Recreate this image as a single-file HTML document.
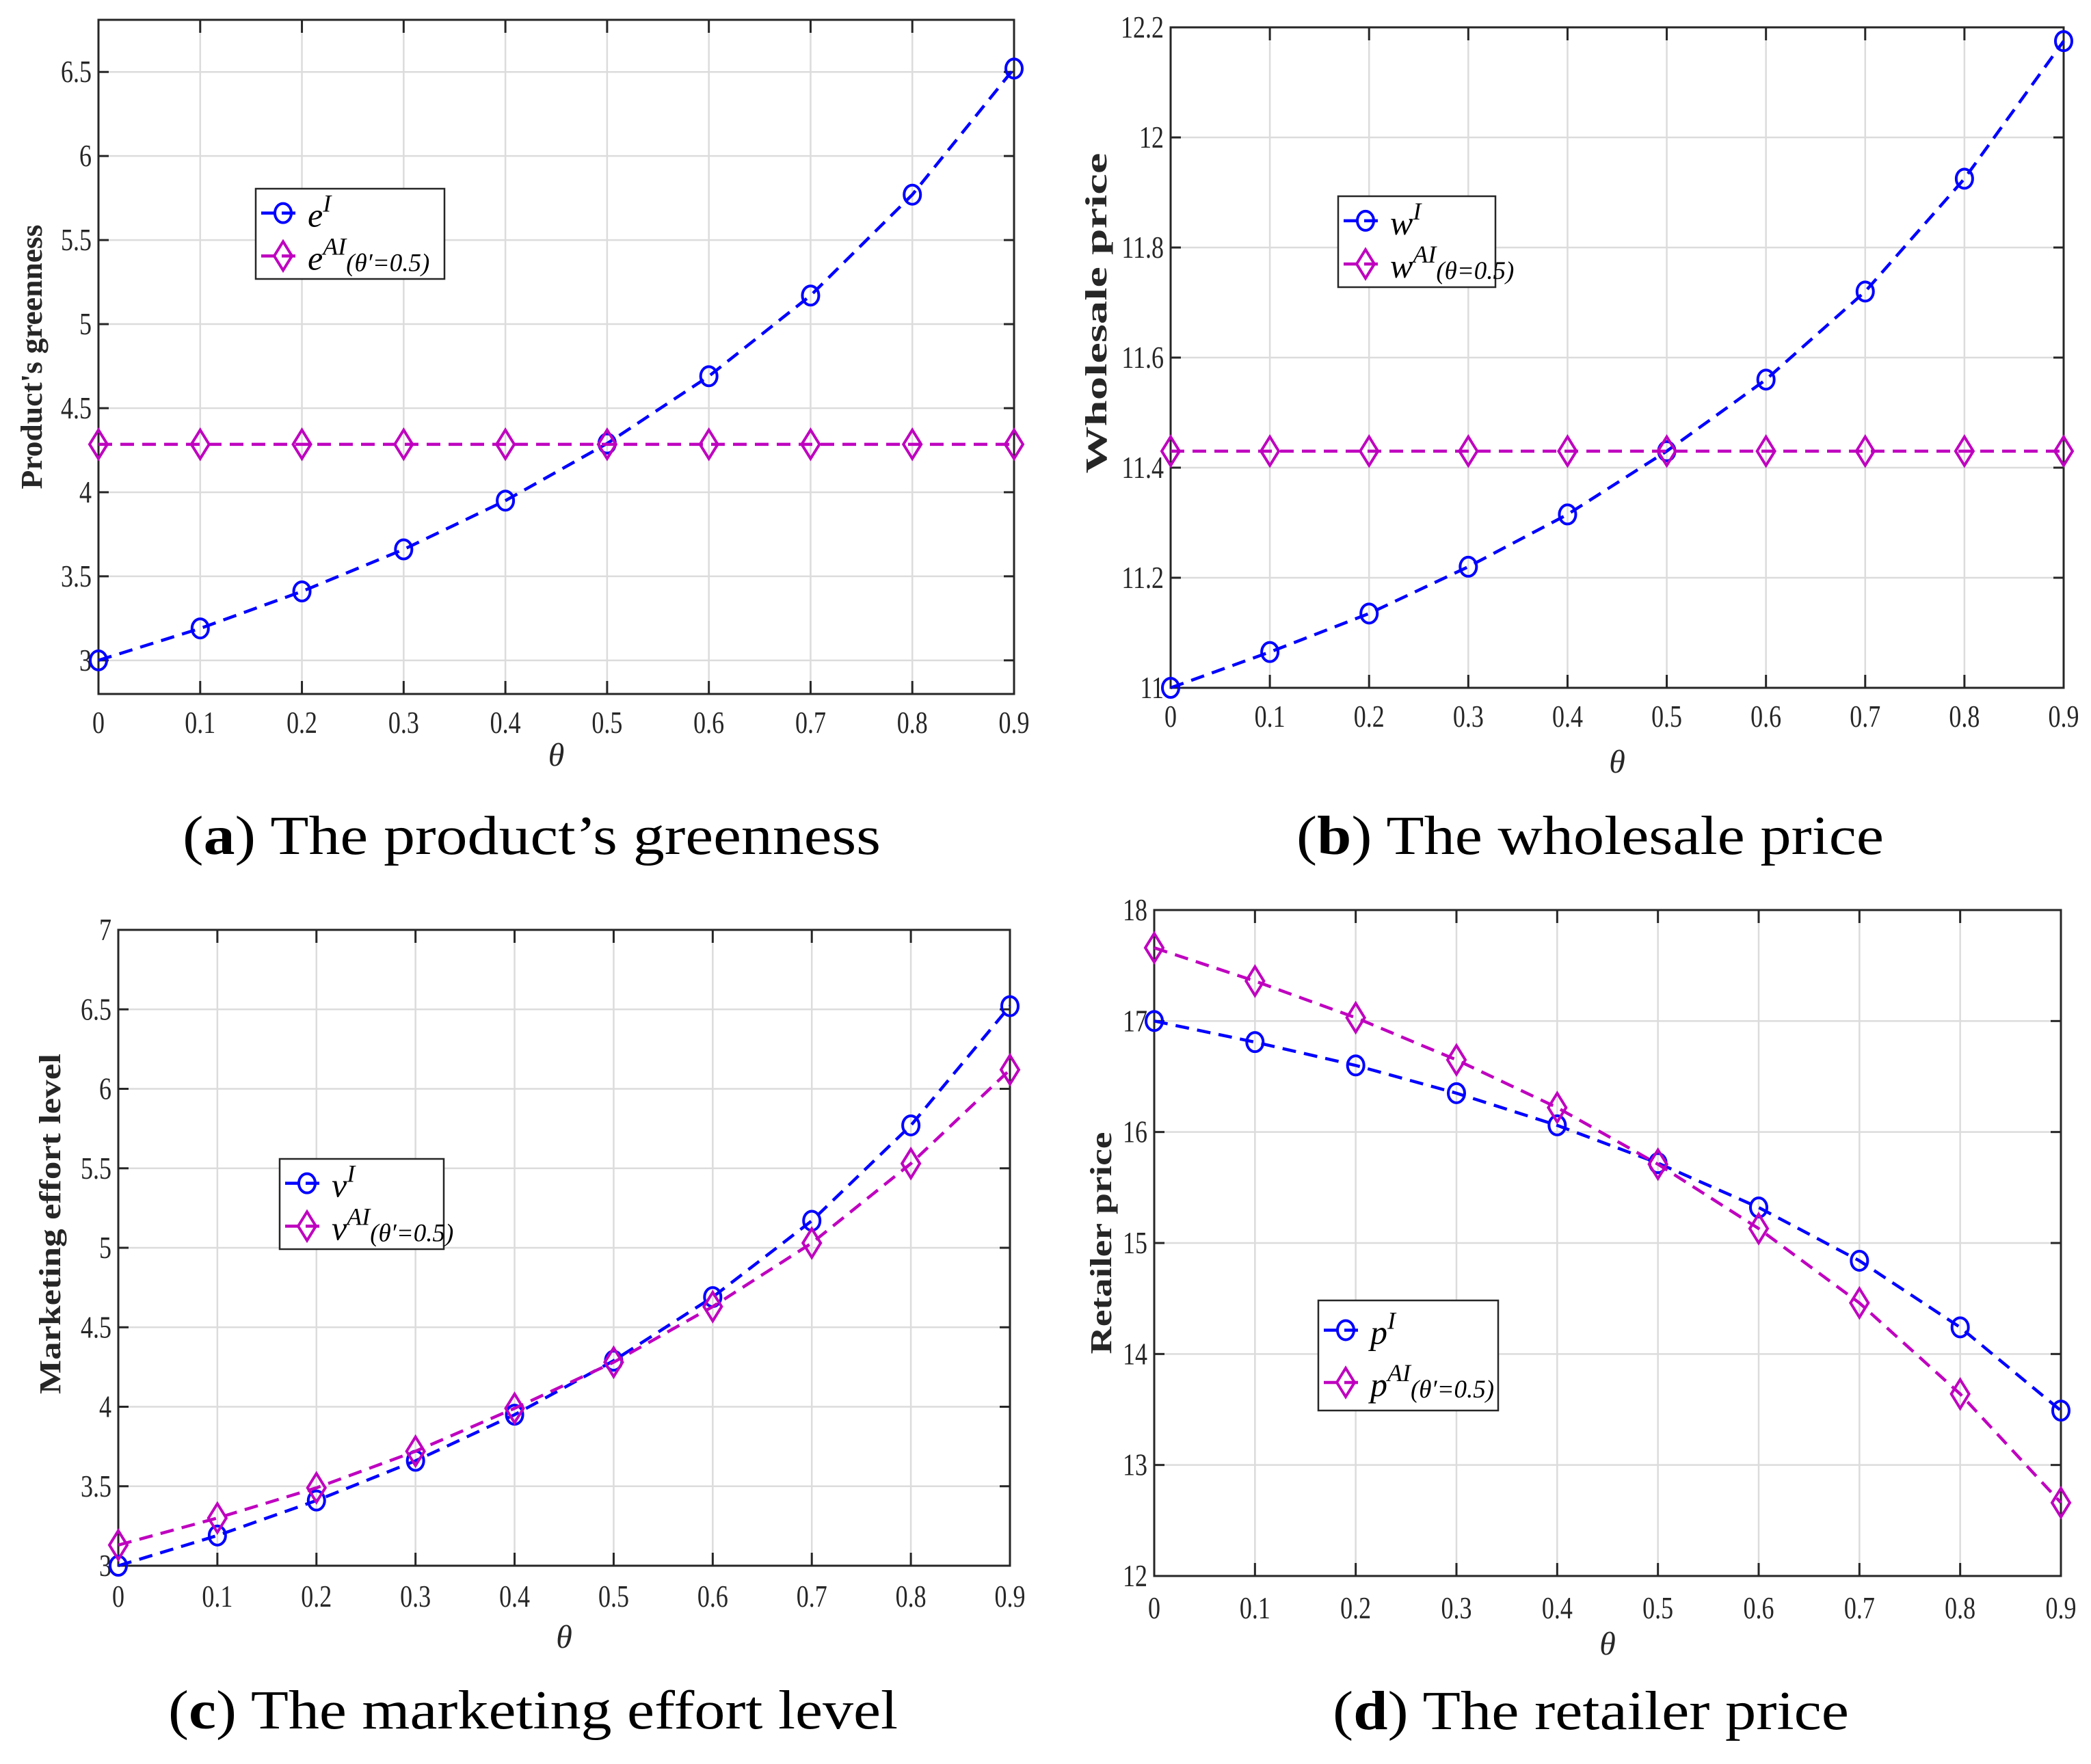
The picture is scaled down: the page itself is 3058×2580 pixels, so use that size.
<!DOCTYPE html>
<html><head><meta charset="utf-8"><title>Comparison of theta effects</title>
<style>
html,body{margin:0;padding:0;background:#fff;}
svg{display:block;}
text{font-family:"Liberation Serif","DejaVu Serif",serif;fill:#262626;}
</style></head>
<body>
<svg id="chart" width="3058" height="2580" viewBox="0 0 3058 2580" xmlns="http://www.w3.org/2000/svg"></svg>
<script>
// ---- data ----
const thetas = [0, 0.1, 0.2, 0.3, 0.4, 0.5, 0.6, 0.7, 0.8, 0.9];
const xTickLabels = ["0","0.1","0.2","0.3","0.4","0.5","0.6","0.7","0.8","0.9"];
const eI  = [3.0, 3.19, 3.41, 3.66, 3.95, 4.29, 4.69, 5.17, 5.77, 6.52];
const eAI = [4.285, 4.285, 4.285, 4.285, 4.285, 4.285, 4.285, 4.285, 4.285, 4.285];
const wI  = [11.0, 11.065, 11.135, 11.22, 11.315, 11.43, 11.56, 11.72, 11.925, 12.175];
const wAI = [11.43, 11.43, 11.43, 11.43, 11.43, 11.43, 11.43, 11.43, 11.43, 11.43];
const vI  = [3.0, 3.19, 3.41, 3.66, 3.95, 4.29, 4.69, 5.17, 5.77, 6.52];
const vAI = [3.13, 3.30, 3.49, 3.72, 3.99, 4.28, 4.63, 5.03, 5.53, 6.12];
const pI  = [17.0, 16.81, 16.60, 16.35, 16.06, 15.72, 15.32, 14.84, 14.24, 13.49];
const pAI = [17.66, 17.36, 17.03, 16.65, 16.22, 15.71, 15.13, 14.46, 13.64, 12.66];
const yTicksA = [3, 3.5, 4, 4.5, 5, 5.5, 6, 6.5];
const yTickLabelsA = ["3","3.5","4","4.5","5","5.5","6","6.5"];
const yTicksB = [11, 11.2, 11.4, 11.6, 11.8, 12, 12.2];
const yTickLabelsB = ["11","11.2","11.4","11.6","11.8","12","12.2"];
const yTicksC = [3, 3.5, 4, 4.5, 5, 5.5, 6, 6.5, 7];
const yTickLabelsC = ["3","3.5","4","4.5","5","5.5","6","6.5","7"];
const yTicksD = [12, 13, 14, 15, 16, 17, 18];
const yTickLabelsD = ["12","13","14","15","16","17","18"];

const NS = "http://www.w3.org/2000/svg";
const svg = document.getElementById("chart");
function mk(tag, attrs, parent){
  const el = document.createElementNS(NS, tag);
  for (const k in attrs) el.setAttribute(k, attrs[k]);
  (parent||svg).appendChild(el);
  return el;
}

const panels = [
  {id:"a", L:144, R:1483, T:29, B:1015, ymin:2.8, ymax:6.81, yt:yTicksA, ytl:yTickLabelsA,
   s1:eI, s2:eAI, sym:"e", prime:"(θ′=0.5)", ylabel:"Product's greenness", ylx:47, ylc:522, yll:387,
   xlabY:1072, thetaY:1120, leg:[374,276,650,408],
   cap:"The product’s greenness", capL:"a", capX:267, capW:1021, capY:1249},
  {id:"b", L:1712, R:3018, T:40, B:1006, ymin:11, ymax:12.2, yt:yTicksB, ytl:yTickLabelsB,
   s1:wI, s2:wAI, sym:"w", prime:"(θ=0.5)", ylabel:"Wholesale  price", ylx:1604, ylc:458, yll:469,
   xlabY:1063, thetaY:1130, leg:[1957,287,2187,420],
   cap:"The wholesale price", capL:"b", capX:1896, capW:859, capY:1249},
  {id:"c", L:173, R:1477, T:1360, B:2290, ymin:3, ymax:7, yt:yTicksC, ytl:yTickLabelsC,
   s1:vI, s2:vAI, sym:"v", prime:"(θ′=0.5)", ylabel:"Marketing  effort  level", ylx:74, ylc:1790, yll:498,
   xlabY:2350, thetaY:2410, leg:[409,1695,649,1827],
   cap:"The marketing effort level", capL:"c", capX:246, capW:1067, capY:2528},
  {id:"d", L:1688, R:3014, T:1331, B:2305, ymin:12, ymax:18, yt:yTicksD, ytl:yTickLabelsD,
   s1:pI, s2:pAI, sym:"p", prime:"(θ′=0.5)", ylabel:"Retailer   price", ylx:1611, ylc:1818, yll:325,
   xlabY:2367, thetaY:2420, leg:[1928,1902,2191,2063],
   cap:"The retailer price", capL:"d", capX:1949, capW:755, capY:2529}
];

function circleMarker(g, x, y, color){
  const c = mk("ellipse",{cx:x, cy:y, rx:12, ry:14, fill:"none", stroke:color, "stroke-width":4}, g);
  
  
}
function diamondMarker(g, x, y, color){
  const d = mk("polygon",{points:`${x},${y-21} ${x+13},${y} ${x},${y+21} ${x-13},${y}`, fill:"none", stroke:color, "stroke-width":4}, g);
  
  
}

panels.forEach(p => {
  const g = mk("g", {});
  
  
  const xs = v => p.L + (v - thetas[0]) / (thetas[thetas.length-1] - thetas[0]) * (p.R - p.L);
  const ys = v => p.B - (v - p.ymin) / (p.ymax - p.ymin) * (p.B - p.T);

  mk("rect",{x:p.L,y:p.T,width:p.R-p.L,height:p.B-p.T,fill:"#fff"},g);
  const grid = mk("g",{stroke:"#dcdcdc","stroke-width":2.5},g);
  
  
  thetas.forEach(t => mk("line",{x1:xs(t),x2:xs(t),y1:p.T,y2:p.B},grid));
  p.yt.forEach(v => mk("line",{x1:p.L,x2:p.R,y1:ys(v),y2:ys(v)},grid));
  const ticks = mk("g",{stroke:"#262626","stroke-width":3},g);
  thetas.forEach(t => {
    mk("line",{x1:xs(t),x2:xs(t),y1:p.B,y2:p.B-19},ticks);
    mk("line",{x1:xs(t),x2:xs(t),y1:p.T,y2:p.T+19},ticks);
  });
  p.yt.forEach(v => {
    mk("line",{x1:p.L,x2:p.L+15,y1:ys(v),y2:ys(v)},ticks);
    mk("line",{x1:p.R,x2:p.R-15,y1:ys(v),y2:ys(v)},ticks);
  });
  const box = mk("rect",{x:p.L,y:p.T,width:p.R-p.L,height:p.B-p.T,fill:"none",stroke:"#262626","stroke-width":3},g);
  
  
  thetas.forEach((t,i) => {
    const tx = mk("text",{transform:`translate(${xs(t)},${p.xlabY}) scale(0.8,1)`,"text-anchor":"middle","font-size":45},g);
    tx.textContent = xTickLabels[i];
    
    
  });
  p.yt.forEach((v,i) => {
    const tx = mk("text",{transform:`translate(${p.L-10},${ys(v)+15}) scale(0.8,1)`,"text-anchor":"end","font-size":45},g);
    tx.textContent = p.ytl[i];
    
    
  });
  const xt = mk("text",{x:(p.L+p.R)/2,y:p.thetaY,"text-anchor":"middle","font-size":48,"font-style":"italic"},g);
  xt.textContent = "θ";
  
  
  const yt = mk("text",{transform:`translate(${p.ylx+14},${p.ylc}) rotate(-90)`,"text-anchor":"middle","font-size":44,"font-weight":"bold",textLength:p.yll,lengthAdjust:"spacingAndGlyphs"},g);
  yt.textContent = p.ylabel;
  
  

  const series = [[p.s1,"#0000ff","circle","series-"+p.sym+"-I"],[p.s2,"#bf00bf","diamond","series-"+p.sym+"-AI"]];
  series.forEach(([vals,color,shape,name]) => {
    const sg = mk("g",{},g);
    
    
    const pts = vals.map((v,i) => xs(thetas[i]) + "," + ys(v)).join(" ");
    mk("polyline",{points:pts,fill:"none",stroke:color,"stroke-width":4.5,"stroke-dasharray":"20,12"},sg);
    vals.forEach((v,i) => {
      if (shape === "circle") circleMarker(sg, xs(thetas[i]), ys(v), color);
      else diamondMarker(sg, xs(thetas[i]), ys(v), color);
    });
  });

  const [lx1,ly1,lx2,ly2] = p.leg;
  const lg = mk("g",{},g);
  
  
  mk("rect",{x:lx1,y:ly1,width:lx2-lx1,height:ly2-ly1,fill:"#fff",stroke:"#262626","stroke-width":2.5},lg);
  const rowH = (ly2-ly1);
  const rows = [[ly1+rowH*0.27,"#0000ff","circle","I",""],[ly1+rowH*0.745,"#bf00bf","diamond","AI",p.prime]];
  rows.forEach(([ry,color,shape,sup,sub]) => {
    const eg = mk("g",{},lg);
    
    
    mk("line",{x1:lx1+8,x2:lx1+68,y1:ry,y2:ry,stroke:color,"stroke-width":4.5,"stroke-dasharray":"20,10"},eg);
    if (shape==="circle") circleMarker(eg, lx1+40, ry, color); else diamondMarker(eg, lx1+40, ry, color);
    const t = mk("text",{x:lx1+76,y:ry+20,"font-size":50,"font-style":"italic",style:"fill:#000"},eg);
    const s0 = mk("tspan",{},t); s0.textContent = p.sym;
    const s1 = mk("tspan",{dy:-22,"font-size":36},t); s1.textContent = sup;
    if (sub){ const s2 = mk("tspan",{dy:24,"font-size":37},t); s2.textContent = sub; }
  });

  const cp = mk("text",{x:p.capX,y:p.capY,"font-size":80,textLength:p.capW,lengthAdjust:"spacingAndGlyphs",style:"fill:#000"},g);
  
  
  const c1 = mk("tspan",{},cp); c1.textContent = "(";
  const c2 = mk("tspan",{"font-weight":"bold"},cp); c2.textContent = p.capL;
  const c3 = mk("tspan",{},cp); c3.textContent = ") " + p.cap;
});
</script>
</body></html>
